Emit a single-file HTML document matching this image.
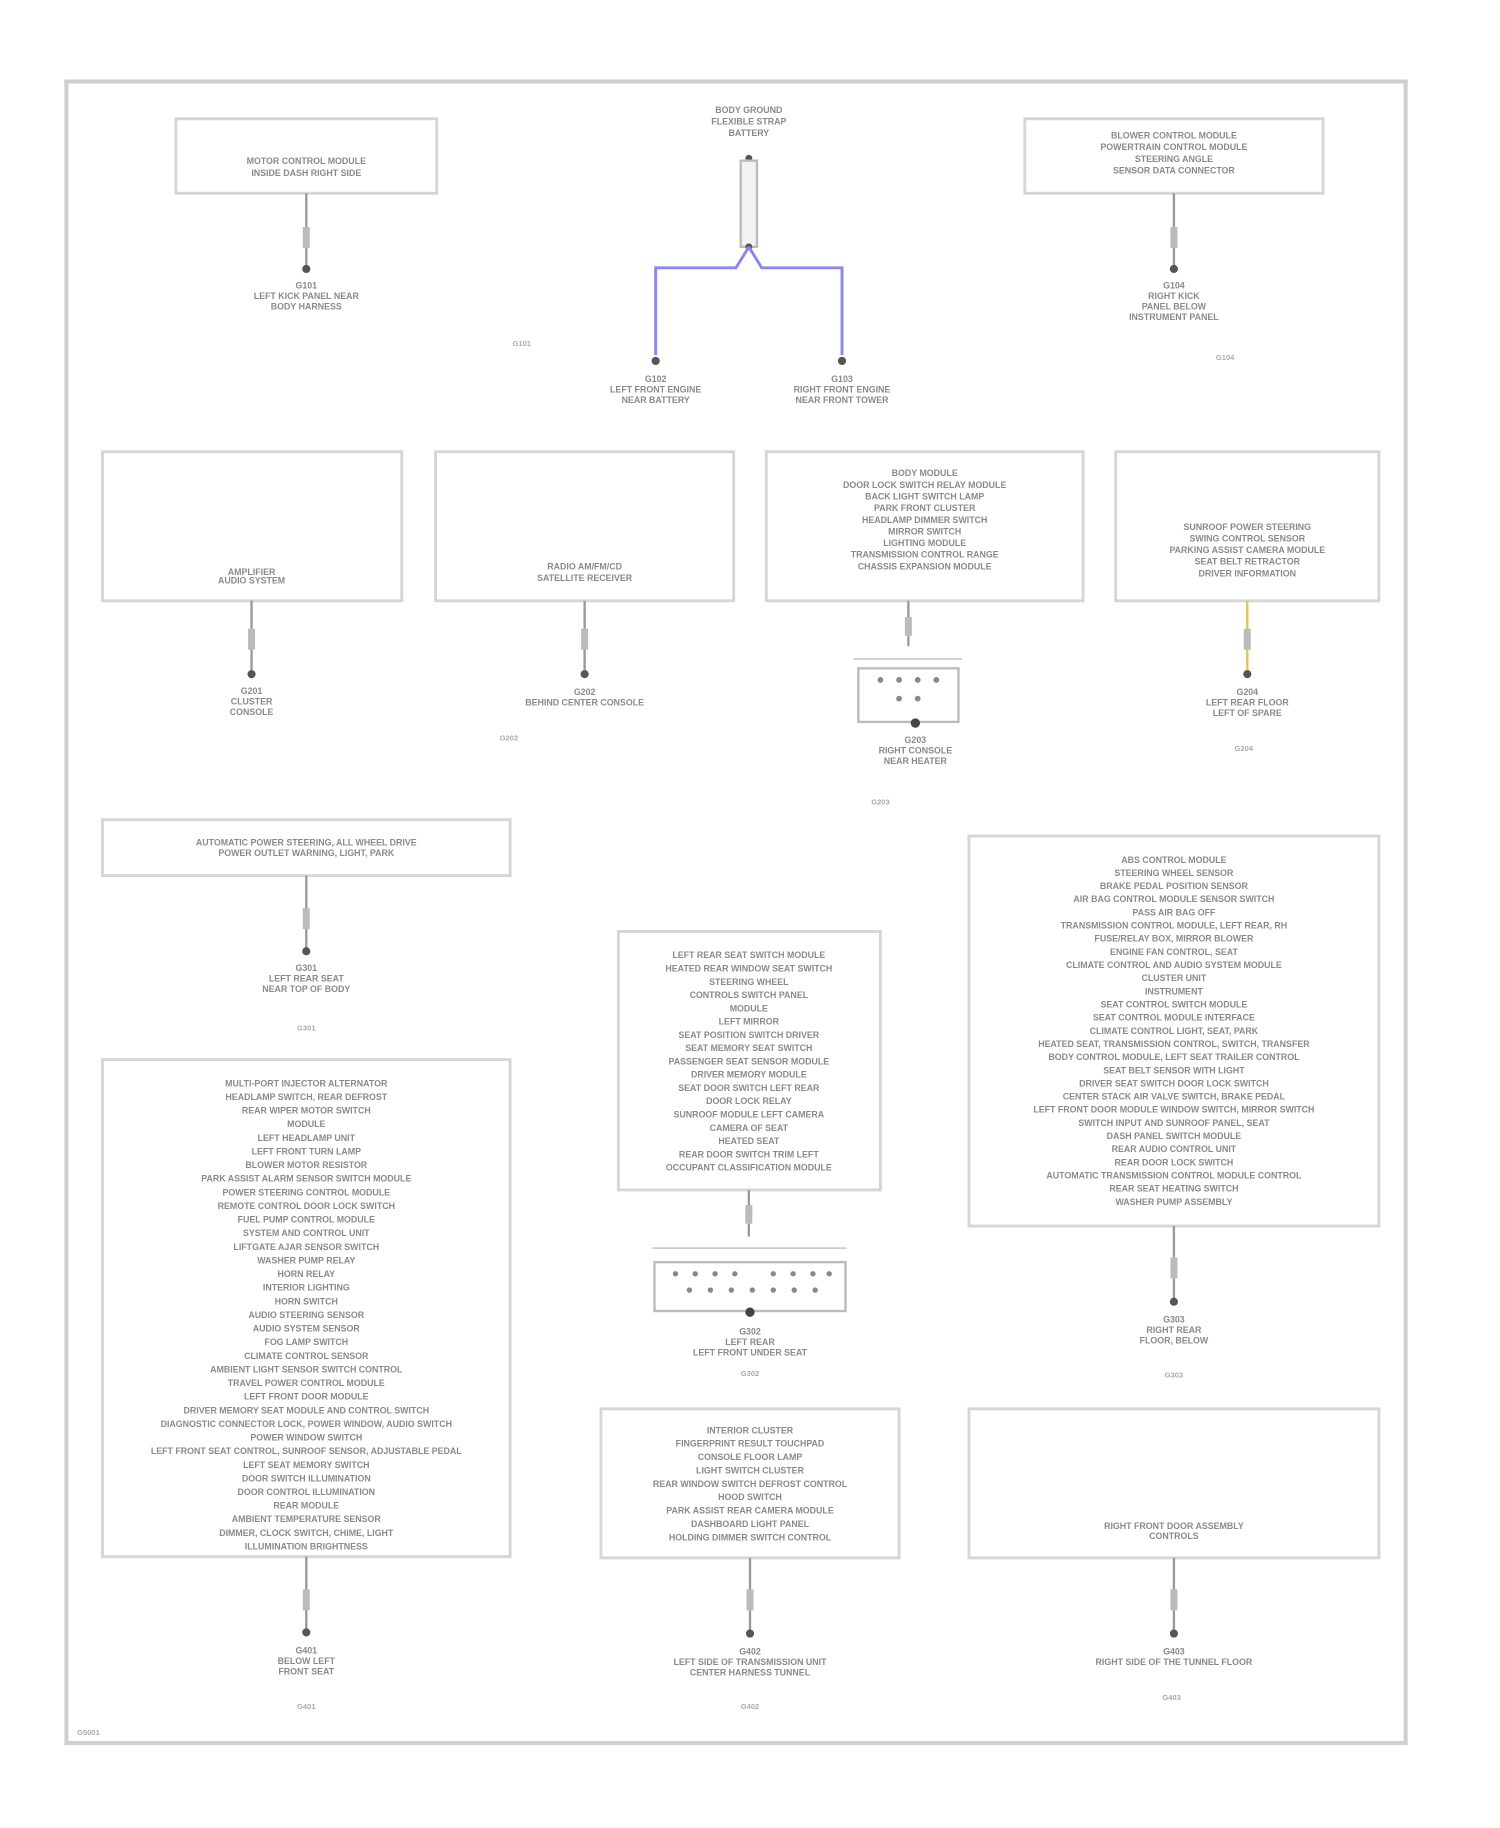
<!DOCTYPE html>
<html><head><meta charset="utf-8"><style>
html,body{margin:0;padding:0;background:#fff;}
svg{display:block}
text{font-family:"Liberation Sans",sans-serif;fill:#8a8a8a;font-weight:bold;}
.t{font-size:7.6px;text-anchor:middle}
.s{font-size:6.5px;text-anchor:middle;fill:#aaa}
.b{fill:#fff;stroke:#d6d6d6;stroke-width:2.5}
.w{stroke:#999;stroke-width:2;fill:none}
</style></head><body>
<svg width="1500" height="1828" viewBox="0 0 1288 1570" preserveAspectRatio="none" xmlns="http://www.w3.org/2000/svg">
<rect x="57" y="70" width="1150" height="1427" fill="#fff" stroke="#cfcfcf" stroke-width="3.5"/>

<!-- Row 1 -->
<rect class="b" x="151" y="102" width="224" height="64"/>
<text class="t" x="263" y="141"><tspan x="263">MOTOR CONTROL MODULE</tspan><tspan x="263" dy="10">INSIDE DASH RIGHT SIDE</tspan></text>
<line class="w" x1="263" y1="166" x2="263" y2="230"/><rect x="260" y="195" width="6" height="18" fill="#bbb"/>
<circle cx="263" cy="231" r="3.5" fill="#555"/>
<text class="t" x="263" y="248"><tspan x="263">G101</tspan><tspan x="263" dy="9">LEFT KICK PANEL NEAR</tspan><tspan x="263" dy="9">BODY HARNESS</tspan></text>
<text class="s" x="448" y="297">G101</text>

<text class="t" x="643" y="97"><tspan x="643">BODY GROUND</tspan><tspan x="643" dy="10">FLEXIBLE STRAP</tspan><tspan x="643" dy="10">BATTERY</tspan></text>
<circle cx="643" cy="136" r="3" fill="#555"/>
<rect x="636" y="138" width="14" height="74" fill="#f2f2f2" stroke="#bbb" stroke-width="2"/>
<circle cx="643" cy="212" r="3" fill="#555"/>
<path d="M643 212 L632 230 L563 230 L563 305 M643 212 L654 230 L723 230 L723 305" fill="none" stroke="#8888ee" stroke-width="2.5"/>
<circle cx="563" cy="310" r="3.5" fill="#555"/><circle cx="723" cy="310" r="3.5" fill="#555"/>
<text class="t" x="563" y="328"><tspan x="563">G102</tspan><tspan x="563" dy="9">LEFT FRONT ENGINE</tspan><tspan x="563" dy="9">NEAR BATTERY</tspan></text>
<text class="t" x="723" y="328"><tspan x="723">G103</tspan><tspan x="723" dy="9">RIGHT FRONT ENGINE</tspan><tspan x="723" dy="9">NEAR FRONT TOWER</tspan></text>

<rect class="b" x="880" y="102" width="256" height="64"/>
<text class="t" x="1008" y="119"><tspan x="1008">BLOWER CONTROL MODULE</tspan><tspan x="1008" dy="10">POWERTRAIN CONTROL MODULE</tspan><tspan x="1008" dy="10">STEERING ANGLE</tspan><tspan x="1008" dy="10">SENSOR DATA CONNECTOR</tspan></text>
<line class="w" x1="1008" y1="166" x2="1008" y2="230"/><rect x="1005" y="195" width="6" height="18" fill="#bbb"/>
<circle cx="1008" cy="231" r="3.5" fill="#555"/>
<text class="t" x="1008" y="248"><tspan x="1008">G104</tspan><tspan x="1008" dy="9">RIGHT KICK</tspan><tspan x="1008" dy="9">PANEL BELOW</tspan><tspan x="1008" dy="9">INSTRUMENT PANEL</tspan></text>
<text class="s" x="1052" y="309">G104</text>

<!-- Row 2 -->
<rect class="b" x="88" y="388" width="257" height="128"/>
<text class="t" x="216" y="494"><tspan x="216">AMPLIFIER</tspan><tspan x="216" dy="7">AUDIO SYSTEM</tspan></text>
<line class="w" x1="216" y1="516" x2="216" y2="578"/><rect x="213" y="540" width="6" height="18" fill="#bbb"/>
<circle cx="216" cy="579" r="3.5" fill="#555"/>
<text class="t" x="216" y="596"><tspan x="216">G201</tspan><tspan x="216" dy="9">CLUSTER</tspan><tspan x="216" dy="9">CONSOLE</tspan></text>

<rect class="b" x="374" y="388" width="256" height="128"/>
<text class="t" x="502" y="489"><tspan x="502">RADIO AM/FM/CD</tspan><tspan x="502" dy="10">SATELLITE RECEIVER</tspan></text>
<line class="w" x1="502" y1="516" x2="502" y2="578"/><rect x="499" y="540" width="6" height="18" fill="#bbb"/>
<circle cx="502" cy="579" r="3.5" fill="#555"/>
<text class="t" x="502" y="597"><tspan x="502">G202</tspan><tspan x="502" dy="9">BEHIND CENTER CONSOLE</tspan></text>
<text class="s" x="437" y="636">G202</text>

<rect class="b" x="658" y="388" width="272" height="128"/>
<text class="t" x="794" y="409"><tspan x="794">BODY MODULE</tspan><tspan x="794" dy="10">DOOR LOCK SWITCH RELAY MODULE</tspan><tspan x="794" dy="10">BACK LIGHT SWITCH LAMP</tspan><tspan x="794" dy="10">PARK FRONT CLUSTER</tspan><tspan x="794" dy="10">HEADLAMP DIMMER SWITCH</tspan><tspan x="794" dy="10">MIRROR SWITCH</tspan><tspan x="794" dy="10">LIGHTING MODULE</tspan><tspan x="794" dy="10">TRANSMISSION CONTROL RANGE</tspan><tspan x="794" dy="10">CHASSIS EXPANSION MODULE</tspan></text>
<line class="w" x1="780" y1="516" x2="780" y2="555"/><rect x="777" y="530" width="6" height="16" fill="#bbb"/>
<line x1="733" y1="566" x2="826" y2="566" stroke="#ccc" stroke-width="1.5"/>
<rect x="737" y="574" width="86" height="46" fill="#fff" stroke="#bbb" stroke-width="2"/>
<g fill="#888"><circle cx="756" cy="584" r="2.5"/><circle cx="772" cy="584" r="2.5"/><circle cx="788" cy="584" r="2.5"/><circle cx="804" cy="584" r="2.5"/><circle cx="772" cy="600" r="2.5"/><circle cx="788" cy="600" r="2.5"/></g>
<circle cx="786" cy="621" r="4" fill="#444"/>
<text class="t" x="786" y="638"><tspan x="786">G203</tspan><tspan x="786" dy="9">RIGHT CONSOLE</tspan><tspan x="786" dy="9">NEAR HEATER</tspan></text>
<text class="s" x="756" y="691">G203</text>

<rect class="b" x="958" y="388" width="226" height="128"/>
<text class="t" x="1071" y="455"><tspan x="1071">SUNROOF POWER STEERING</tspan><tspan x="1071" dy="10">SWING CONTROL SENSOR</tspan><tspan x="1071" dy="10">PARKING ASSIST CAMERA MODULE</tspan><tspan x="1071" dy="10">SEAT BELT RETRACTOR</tspan><tspan x="1071" dy="10">DRIVER INFORMATION</tspan></text>
<line x1="1071" y1="516" x2="1071" y2="578" stroke="#e0c060" stroke-width="2"/><rect x="1068" y="540" width="6" height="18" fill="#bbb"/>
<circle cx="1071" cy="579" r="3.5" fill="#555"/>
<text class="t" x="1071" y="597"><tspan x="1071">G204</tspan><tspan x="1071" dy="9">LEFT REAR FLOOR</tspan><tspan x="1071" dy="9">LEFT OF SPARE</tspan></text>
<text class="s" x="1068" y="645">G204</text>

<!-- Row 3 left -->
<rect class="b" x="88" y="704" width="350" height="48"/>
<text class="t" x="263" y="726"><tspan x="263">AUTOMATIC POWER STEERING, ALL WHEEL DRIVE</tspan><tspan x="263" dy="9">POWER OUTLET WARNING, LIGHT, PARK</tspan></text>
<line class="w" x1="263" y1="752" x2="263" y2="816"/><rect x="260" y="780" width="6" height="18" fill="#bbb"/>
<circle cx="263" cy="817" r="3.5" fill="#555"/>
<text class="t" x="263" y="834"><tspan x="263">G301</tspan><tspan x="263" dy="9">LEFT REAR SEAT</tspan><tspan x="263" dy="9">NEAR TOP OF BODY</tspan></text>
<text class="s" x="263" y="885">G301</text>

<!-- Row 3 center -->
<rect class="b" x="531" y="800" width="225" height="222"/>
<text class="t" x="643" y="823"><tspan x="643">LEFT REAR SEAT SWITCH MODULE</tspan><tspan x="643" dy="11.4">HEATED REAR WINDOW SEAT SWITCH</tspan><tspan x="643" dy="11.4">STEERING WHEEL</tspan><tspan x="643" dy="11.4">CONTROLS SWITCH PANEL</tspan><tspan x="643" dy="11.4">MODULE</tspan><tspan x="643" dy="11.4">LEFT MIRROR</tspan><tspan x="643" dy="11.4">SEAT POSITION SWITCH DRIVER</tspan><tspan x="643" dy="11.4">SEAT MEMORY SEAT SWITCH</tspan><tspan x="643" dy="11.4">PASSENGER SEAT SENSOR MODULE</tspan><tspan x="643" dy="11.4">DRIVER MEMORY MODULE</tspan><tspan x="643" dy="11.4">SEAT DOOR SWITCH LEFT REAR</tspan><tspan x="643" dy="11.4">DOOR LOCK RELAY</tspan><tspan x="643" dy="11.4">SUNROOF MODULE LEFT CAMERA</tspan><tspan x="643" dy="11.4">CAMERA OF SEAT</tspan><tspan x="643" dy="11.4">HEATED SEAT</tspan><tspan x="643" dy="11.4">REAR DOOR SWITCH TRIM LEFT</tspan><tspan x="643" dy="11.4">OCCUPANT CLASSIFICATION MODULE</tspan></text>
<line class="w" x1="643" y1="1022" x2="643" y2="1062"/><rect x="640" y="1035" width="6" height="16" fill="#bbb"/>
<line x1="560" y1="1072" x2="727" y2="1072" stroke="#ccc" stroke-width="1.5"/>
<rect x="562" y="1084" width="164" height="42" fill="#fff" stroke="#bbb" stroke-width="2"/>
<g fill="#888"><circle cx="580" cy="1094" r="2.3"/><circle cx="597" cy="1094" r="2.3"/><circle cx="614" cy="1094" r="2.3"/><circle cx="631" cy="1094" r="2.3"/><circle cx="664" cy="1094" r="2.3"/><circle cx="681" cy="1094" r="2.3"/><circle cx="698" cy="1094" r="2.3"/><circle cx="712" cy="1094" r="2.3"/><circle cx="592" cy="1108" r="2.3"/><circle cx="610" cy="1108" r="2.3"/><circle cx="628" cy="1108" r="2.3"/><circle cx="646" cy="1108" r="2.3"/><circle cx="664" cy="1108" r="2.3"/><circle cx="682" cy="1108" r="2.3"/><circle cx="700" cy="1108" r="2.3"/></g>
<circle cx="644" cy="1127" r="4" fill="#444"/>
<text class="t" x="644" y="1146"><tspan x="644">G302</tspan><tspan x="644" dy="9">LEFT REAR</tspan><tspan x="644" dy="9">LEFT FRONT UNDER SEAT</tspan></text>
<text class="s" x="644" y="1182">G302</text>

<!-- Row 3 right -->
<rect class="b" x="832" y="718" width="352" height="335"/>
<text class="t" x="1008" y="741"><tspan x="1008">ABS CONTROL MODULE</tspan><tspan x="1008" dy="11.3">STEERING WHEEL SENSOR</tspan><tspan x="1008" dy="11.3">BRAKE PEDAL POSITION SENSOR</tspan><tspan x="1008" dy="11.3">AIR BAG CONTROL MODULE SENSOR SWITCH</tspan><tspan x="1008" dy="11.3">PASS AIR BAG OFF</tspan><tspan x="1008" dy="11.3">TRANSMISSION CONTROL MODULE, LEFT REAR, RH</tspan><tspan x="1008" dy="11.3">FUSE/RELAY BOX, MIRROR BLOWER</tspan><tspan x="1008" dy="11.3">ENGINE FAN CONTROL, SEAT</tspan><tspan x="1008" dy="11.3">CLIMATE CONTROL AND AUDIO SYSTEM MODULE</tspan><tspan x="1008" dy="11.3">CLUSTER UNIT</tspan><tspan x="1008" dy="11.3">INSTRUMENT</tspan><tspan x="1008" dy="11.3">SEAT CONTROL SWITCH MODULE</tspan><tspan x="1008" dy="11.3">SEAT CONTROL MODULE INTERFACE</tspan><tspan x="1008" dy="11.3">CLIMATE CONTROL LIGHT, SEAT, PARK</tspan><tspan x="1008" dy="11.3">HEATED SEAT, TRANSMISSION CONTROL, SWITCH, TRANSFER</tspan><tspan x="1008" dy="11.3">BODY CONTROL MODULE, LEFT SEAT TRAILER CONTROL</tspan><tspan x="1008" dy="11.3">SEAT BELT SENSOR WITH LIGHT</tspan><tspan x="1008" dy="11.3">DRIVER SEAT SWITCH DOOR LOCK SWITCH</tspan><tspan x="1008" dy="11.3">CENTER STACK AIR VALVE SWITCH, BRAKE PEDAL</tspan><tspan x="1008" dy="11.3">LEFT FRONT DOOR MODULE WINDOW SWITCH, MIRROR SWITCH</tspan><tspan x="1008" dy="11.3">SWITCH INPUT AND SUNROOF PANEL, SEAT</tspan><tspan x="1008" dy="11.3">DASH PANEL SWITCH MODULE</tspan><tspan x="1008" dy="11.3">REAR AUDIO CONTROL UNIT</tspan><tspan x="1008" dy="11.3">REAR DOOR LOCK SWITCH</tspan><tspan x="1008" dy="11.3">AUTOMATIC TRANSMISSION CONTROL MODULE CONTROL</tspan><tspan x="1008" dy="11.3">REAR SEAT HEATING SWITCH</tspan><tspan x="1008" dy="11.3">WASHER PUMP ASSEMBLY</tspan></text>
<line class="w" x1="1008" y1="1053" x2="1008" y2="1117"/><rect x="1005" y="1080" width="6" height="18" fill="#bbb"/>
<circle cx="1008" cy="1118" r="3.5" fill="#555"/>
<text class="t" x="1008" y="1136"><tspan x="1008">G303</tspan><tspan x="1008" dy="9">RIGHT REAR</tspan><tspan x="1008" dy="9">FLOOR, BELOW</tspan></text>
<text class="s" x="1008" y="1183">G303</text>

<!-- Row 4 left -->
<rect class="b" x="88" y="910" width="350" height="427"/>
<text class="t" x="263" y="933"><tspan x="263">MULTI-PORT INJECTOR ALTERNATOR</tspan><tspan x="263" dy="11.7">HEADLAMP SWITCH, REAR DEFROST</tspan><tspan x="263" dy="11.7">REAR WIPER MOTOR SWITCH</tspan><tspan x="263" dy="11.7">MODULE</tspan><tspan x="263" dy="11.7">LEFT HEADLAMP UNIT</tspan><tspan x="263" dy="11.7">LEFT FRONT TURN LAMP</tspan><tspan x="263" dy="11.7">BLOWER MOTOR RESISTOR</tspan><tspan x="263" dy="11.7">PARK ASSIST ALARM SENSOR SWITCH MODULE</tspan><tspan x="263" dy="11.7">POWER STEERING CONTROL MODULE</tspan><tspan x="263" dy="11.7">REMOTE CONTROL DOOR LOCK SWITCH</tspan><tspan x="263" dy="11.7">FUEL PUMP CONTROL MODULE</tspan><tspan x="263" dy="11.7">SYSTEM AND CONTROL UNIT</tspan><tspan x="263" dy="11.7">LIFTGATE AJAR SENSOR SWITCH</tspan><tspan x="263" dy="11.7">WASHER PUMP RELAY</tspan><tspan x="263" dy="11.7">HORN RELAY</tspan><tspan x="263" dy="11.7">INTERIOR LIGHTING</tspan><tspan x="263" dy="11.7">HORN SWITCH</tspan><tspan x="263" dy="11.7">AUDIO STEERING SENSOR</tspan><tspan x="263" dy="11.7">AUDIO SYSTEM SENSOR</tspan><tspan x="263" dy="11.7">FOG LAMP SWITCH</tspan><tspan x="263" dy="11.7">CLIMATE CONTROL SENSOR</tspan><tspan x="263" dy="11.7">AMBIENT LIGHT SENSOR SWITCH CONTROL</tspan><tspan x="263" dy="11.7">TRAVEL POWER CONTROL MODULE</tspan><tspan x="263" dy="11.7">LEFT FRONT DOOR MODULE</tspan><tspan x="263" dy="11.7">DRIVER MEMORY SEAT MODULE AND CONTROL SWITCH</tspan><tspan x="263" dy="11.7">DIAGNOSTIC CONNECTOR LOCK, POWER WINDOW, AUDIO SWITCH</tspan><tspan x="263" dy="11.7">POWER WINDOW SWITCH</tspan><tspan x="263" dy="11.7">LEFT FRONT SEAT CONTROL, SUNROOF SENSOR, ADJUSTABLE PEDAL</tspan><tspan x="263" dy="11.7">LEFT SEAT MEMORY SWITCH</tspan><tspan x="263" dy="11.7">DOOR SWITCH ILLUMINATION</tspan><tspan x="263" dy="11.7">DOOR CONTROL ILLUMINATION</tspan><tspan x="263" dy="11.7">REAR MODULE</tspan><tspan x="263" dy="11.7">AMBIENT TEMPERATURE SENSOR</tspan><tspan x="263" dy="11.7">DIMMER, CLOCK SWITCH, CHIME, LIGHT</tspan><tspan x="263" dy="11.7">ILLUMINATION BRIGHTNESS</tspan></text>
<line class="w" x1="263" y1="1337" x2="263" y2="1401"/><rect x="260" y="1365" width="6" height="18" fill="#bbb"/>
<circle cx="263" cy="1402" r="3.5" fill="#555"/>
<text class="t" x="263" y="1420"><tspan x="263">G401</tspan><tspan x="263" dy="9">BELOW LEFT</tspan><tspan x="263" dy="9">FRONT SEAT</tspan></text>
<text class="s" x="263" y="1468">G401</text>

<!-- Row 4 mid -->
<rect class="b" x="516" y="1210" width="256" height="128"/>
<text class="t" x="644" y="1231"><tspan x="644">INTERIOR CLUSTER</tspan><tspan x="644" dy="11.5">FINGERPRINT RESULT TOUCHPAD</tspan><tspan x="644" dy="11.5">CONSOLE FLOOR LAMP</tspan><tspan x="644" dy="11.5">LIGHT SWITCH CLUSTER</tspan><tspan x="644" dy="11.5">REAR WINDOW SWITCH DEFROST CONTROL</tspan><tspan x="644" dy="11.5">HOOD SWITCH</tspan><tspan x="644" dy="11.5">PARK ASSIST REAR CAMERA MODULE</tspan><tspan x="644" dy="11.5">DASHBOARD LIGHT PANEL</tspan><tspan x="644" dy="11.5">HOLDING DIMMER SWITCH CONTROL</tspan></text>
<line class="w" x1="644" y1="1338" x2="644" y2="1402"/><rect x="641" y="1365" width="6" height="18" fill="#bbb"/>
<circle cx="644" cy="1403" r="3.5" fill="#555"/>
<text class="t" x="644" y="1421"><tspan x="644">G402</tspan><tspan x="644" dy="9">LEFT SIDE OF TRANSMISSION UNIT</tspan><tspan x="644" dy="9">CENTER HARNESS TUNNEL</tspan></text>
<text class="s" x="644" y="1468">G402</text>

<!-- Row 4 right -->
<rect class="b" x="832" y="1210" width="352" height="128"/>
<text class="t" x="1008" y="1313"><tspan x="1008">RIGHT FRONT DOOR ASSEMBLY</tspan><tspan x="1008" dy="9">CONTROLS</tspan></text>
<line class="w" x1="1008" y1="1338" x2="1008" y2="1402"/><rect x="1005" y="1365" width="6" height="18" fill="#bbb"/>
<circle cx="1008" cy="1403" r="3.5" fill="#555"/>
<text class="t" x="1008" y="1421"><tspan x="1008">G403</tspan><tspan x="1008" dy="9">RIGHT SIDE OF THE TUNNEL FLOOR</tspan></text>
<text class="s" x="1006" y="1460">G403</text>

<text class="s" x="76" y="1490">G5001</text>
</svg>
</body></html>
